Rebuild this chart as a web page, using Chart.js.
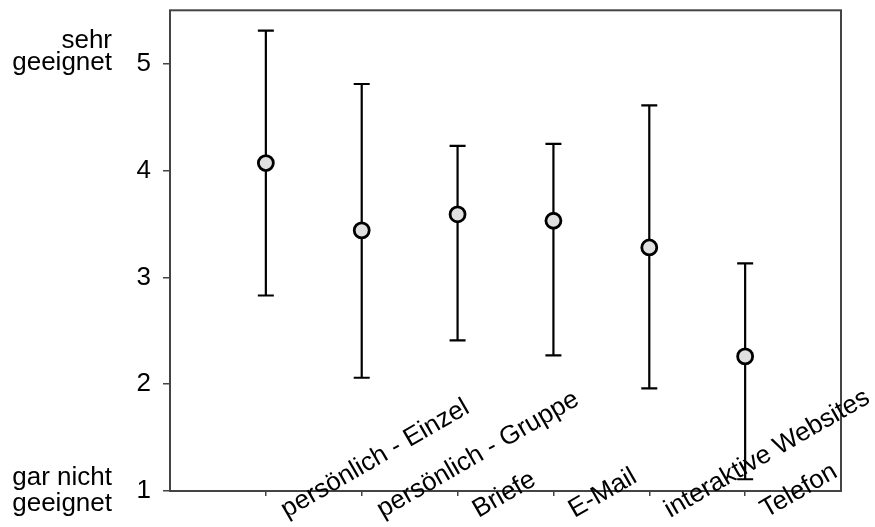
<!DOCTYPE html>
<html>
<head>
<meta charset="utf-8">
<script src="https://cdn.jsdelivr.net/npm/chart.js@4/dist/chart.umd.min.js"></script>
<style>
	html, body { margin: 0; padding: 0; background: #fff; }
	canvas { display: block; }
</style>
</head>
<body>
<canvas id="eignung-chart" width="875" height="527"></canvas>
<script>
// Categories, left to right.
const categories = ['persönlich - Einzel', 'persönlich - Gruppe', 'Briefe', 'E-Mail', 'interaktive Websites', 'Telefon'];

// Mean rating per category.
const means = [4.07, 3.44, 3.59, 3.53, 3.28, 2.26];

// Error bar ends.
const upper = [5.31, 4.81, 4.23, 4.25, 4.61, 3.13];
const lower = [2.83, 2.06, 2.41, 2.27, 1.96, 1.11];

// Tick values.
const yTicks = [1, 2, 3, 4, 5];
const xTicks = [1, 2, 3, 4, 5, 6];

// Scale labels at the top and bottom of the y axis.
const topScaleLabel = ['sehr', 'geeignet'];
const bottomScaleLabel = ['gar nicht', 'geeignet'];

(function() {
	'use strict';

	const fontFamily = '"Liberation Sans", Arial, sans-serif';
	const fontSize = 26;
	const frameColor = '#444';

	/**
	 * Error bars with caps, drawn under the points.
	 */
	const errorBarPlugin = {
		id: 'errorBars',
		beforeDatasetsDraw: function(chart) {
			const ctx = chart.ctx;
			const xScale = chart.scales.x;
			const yScale = chart.scales.y;

			ctx.save();
			ctx.strokeStyle = '#000';
			ctx.lineWidth = 2.2;
			categories.forEach(function(cat, i) {
				const x = xScale.getPixelForValue(i + 1);
				const yHi = yScale.getPixelForValue(upper[i]);
				const yLo = yScale.getPixelForValue(lower[i]);
				ctx.beginPath();
				ctx.moveTo(x, yHi);
				ctx.lineTo(x, yLo);
				ctx.moveTo(x - 8, yHi);
				ctx.lineTo(x + 8, yHi);
				ctx.moveTo(x - 8, yLo);
				ctx.lineTo(x + 8, yLo);
				ctx.stroke();
			});
			ctx.restore();
		}
	};

	/**
	 * Box round the plot area plus the rotated category labels.
	 */
	const frameAndLabelsPlugin = {
		id: 'frameAndLabels',
		beforeDatasetsDraw: function(chart) {
			const ctx = chart.ctx;
			const area = chart.chartArea;

			ctx.save();
			ctx.strokeStyle = frameColor;
			ctx.lineWidth = 2;
			ctx.strokeRect(area.left, area.top, area.right - area.left, area.bottom - area.top);
			ctx.restore();
		},
		afterDraw: function(chart) {
			const ctx = chart.ctx;
			const xScale = chart.scales.x;
			const yScale = chart.scales.y;
			const bottom = chart.chartArea.bottom;

			ctx.save();
			ctx.fillStyle = '#000';
			ctx.font = fontSize + 'px ' + fontFamily;

			// Category labels start just right of their tick and climb up-right.
			ctx.textAlign = 'left';
			ctx.textBaseline = 'alphabetic';
			categories.forEach(function(cat, i) {
				const x = xScale.getPixelForValue(i + 1);
				ctx.save();
				ctx.translate(x + 21, bottom + 27);
				ctx.rotate(-30 * Math.PI / 180);
				ctx.fillText(cat, 0, 0);
				ctx.restore();
			});

			// Verbal anchors next to 5 and 1.
			ctx.textAlign = 'right';
			ctx.textBaseline = 'middle';
			const y5 = yScale.getPixelForValue(5);
			const y1 = yScale.getPixelForValue(1);
			ctx.fillText(topScaleLabel[0], 112, y5 - 23);
			ctx.fillText(topScaleLabel[1], 112, y5 - 1);
			ctx.fillText(bottomScaleLabel[0], 112, y1 - 13);
			ctx.fillText(bottomScaleLabel[1], 112, y1 + 13);
			ctx.restore();
		}
	};

	const ctx = document.getElementById('eignung-chart').getContext('2d');
	new Chart(ctx, {
		type: 'scatter',
		data: {
			datasets: [{
				data: means.map(function(m, i) {
					return { x: i + 1, y: m };
				}),
				pointRadius: 7.5,
				pointHoverRadius: 7.5,
				pointBackgroundColor: '#e0e0e0',
				pointBorderColor: '#000',
				pointBorderWidth: 2.8,
				showLine: false
			}]
		},
		options: {
			responsive: false,
			animation: false,
			layout: {
				padding: { top: 10, right: 34, left: 0, bottom: 0 }
			},
			plugins: {
				legend: { display: false },
				tooltip: { enabled: false }
			},
			scales: {
				x: {
					type: 'linear',
					min: 0,
					max: 7,
					afterBuildTicks: function(scale) {
						scale.ticks = xTicks.map(function(v) { return { value: v }; });
					},
					afterFit: function(scale) {
						scale.height = 36;
						scale.paddingLeft = 0;
						scale.paddingRight = 0;
					},
					border: { display: false },
					grid: {
						drawOnChartArea: false,
						drawTicks: true,
						tickLength: 5,
						color: frameColor,
						lineWidth: 1.5
					},
					ticks: { display: false }
				},
				y: {
					min: 1,
					max: 5.5,
					afterBuildTicks: function(scale) {
						scale.ticks = yTicks.map(function(v) { return { value: v }; });
					},
					afterFit: function(scale) {
						scale.width = 170;
						scale.paddingTop = 0;
						scale.paddingBottom = 0;
					},
					border: { display: false },
					grid: {
						drawOnChartArea: false,
						drawTicks: true,
						tickLength: 7,
						color: frameColor,
						lineWidth: 1.5
					},
					ticks: {
						color: '#000',
						padding: 12,
						font: { family: fontFamily, size: fontSize }
					}
				}
			}
		},
		plugins: [frameAndLabelsPlugin, errorBarPlugin]
	});
})();
</script>
</body>
</html>
